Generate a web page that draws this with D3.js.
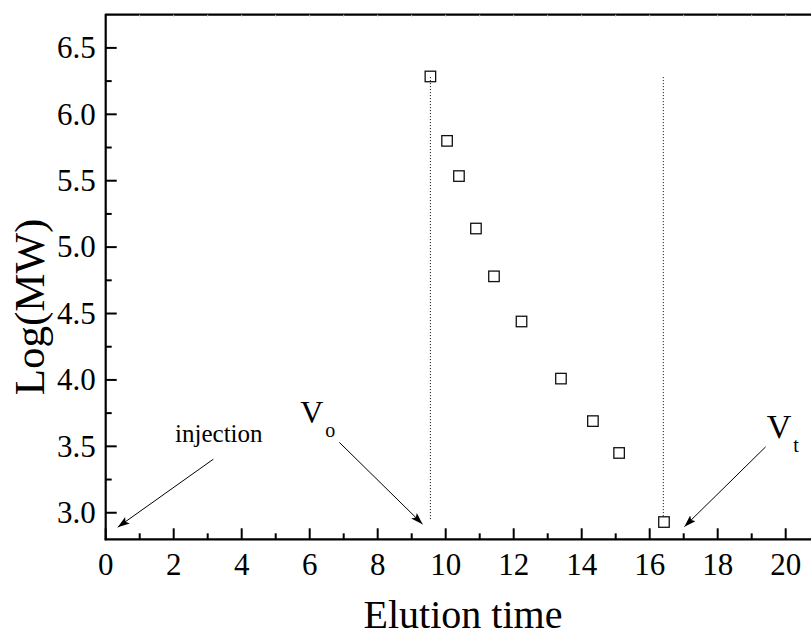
<!DOCTYPE html>
<html>
<head>
<meta charset="utf-8">
<script src="https://cdn.jsdelivr.net/npm/d3@7"></script>
<style>
  html, body { margin: 0; padding: 0; background: #fff; }
  svg { display: block; }
</style>
</head>
<body>
<svg id="chart" width="811" height="637"></svg>
<script>
// ---- data ----
const elutionTime = [9.55, 10.04, 10.39, 10.89, 11.42, 12.23, 13.39, 14.33, 15.10, 16.42];
const logMW       = [6.285, 5.80, 5.535, 5.14, 4.78, 4.44, 4.01, 3.69, 3.45, 2.93];
const xTicks = [0, 2, 4, 6, 8, 10, 12, 14, 16, 18, 20];
const yTicks = [3.0, 3.5, 4.0, 4.5, 5.0, 5.5, 6.0, 6.5];
const xLabel = "Elution time";
const yLabel = "Log(MW)";
// markers: V0 / Vt dotted lines [x, yTop, yBottom]
const markerLines = [[9.55, 6.28, 2.945], [16.40, 6.28, 2.97]];
// annotations: label, label pos, arrow start, arrow tip
const annotations = [
  { text: "injection", sub: "", lx: 2.04, ly: 3.535, x1: 3.165, y1: 3.403, x2: 0.353, y2: 2.891 },
  { text: "V", sub: "o", lx: 5.72, ly: 3.674, x1: 6.871, y1: 3.530, x2: 9.32, y2: 2.914 },
  { text: "V", sub: "t", lx: 19.44, ly: 3.563, x1: 19.41, y1: 3.496, x2: 17.02, y2: 2.895 }
];

(function () {
const FONT = "Liberation Serif";
const svg = d3.select("#chart");
const mLeft = 105.7, mTop = 14.7, mBottom = 539.3;
const x = d3.scaleLinear().domain([0, 21]).range([mLeft, mLeft + 34 * 21]);
const y = d3.scaleLinear().domain([2.8, 6.75]).range([mBottom, mTop]);

svg.append("defs").append("marker")
  .attr("id", "arrow").attr("viewBox", "0 0 12 8")
  .attr("refX", 12).attr("refY", 4)
  .attr("markerWidth", 12).attr("markerHeight", 8)
  .attr("markerUnits", "userSpaceOnUse")
  .attr("orient", "auto")
  .append("path").attr("d", "M0,0 L12,4 L0,8 L2.5,4 Z").attr("fill", "#000");

// top frame line with faint ticks
svg.append("line").attr("x1", mLeft).attr("x2", 831).attr("y1", mTop).attr("y2", mTop)
  .attr("stroke", "#000").attr("stroke-width", 2.2);
svg.append("g").selectAll("line").data(d3.range(1, 21)).join("line")
  .attr("x1", d => x(d)).attr("x2", d => x(d)).attr("y1", mTop).attr("y2", mTop + 2)
  .attr("stroke", "#bbb").attr("stroke-width", 1);

// x axis
const gx = svg.append("g").attr("transform", `translate(0,${mBottom})`);
gx.append("line").attr("x1", mLeft - 1).attr("x2", 831).attr("stroke", "#000").attr("stroke-width", 2.2);
gx.selectAll(".maj").data(xTicks).join("line").attr("class", "maj")
  .attr("x1", d => x(d)).attr("x2", d => x(d)).attr("y1", 0).attr("y2", -11)
  .attr("stroke", "#000").attr("stroke-width", 2);
gx.selectAll(".min").data(d3.range(1, 21, 2)).join("line").attr("class", "min")
  .attr("x1", d => x(d)).attr("x2", d => x(d)).attr("y1", 0).attr("y2", -6)
  .attr("stroke", "#000").attr("stroke-width", 2);
gx.selectAll("text").data(xTicks).join("text")
  .attr("x", d => x(d)).attr("y", 36).attr("text-anchor", "middle")
  .attr("font-family", FONT).attr("font-size", 31).text(d => d);

// y axis
const gy = svg.append("g").attr("transform", `translate(${mLeft},0)`);
gy.append("line").attr("y1", mTop - 1).attr("y2", mBottom + 1).attr("stroke", "#000").attr("stroke-width", 2.2);
gy.selectAll(".maj").data(yTicks).join("line").attr("class", "maj")
  .attr("x1", 0).attr("x2", 11).attr("y1", d => y(d)).attr("y2", d => y(d))
  .attr("stroke", "#000").attr("stroke-width", 2);
gy.selectAll(".min").data(d3.range(3.25, 6.5, 0.5)).join("line").attr("class", "min")
  .attr("x1", 0).attr("x2", 6).attr("y1", d => y(d)).attr("y2", d => y(d))
  .attr("stroke", "#000").attr("stroke-width", 2);
gy.selectAll("text").data(yTicks).join("text")
  .attr("x", -10).attr("y", d => y(d)).attr("dy", "0.33em").attr("text-anchor", "end")
  .attr("font-family", FONT).attr("font-size", 31).text(d => d.toFixed(1));

// axis labels
svg.append("text").attr("x", 463).attr("y", 628).attr("text-anchor", "middle")
  .attr("font-family", FONT).attr("font-size", 40).text(xLabel);
svg.append("text").attr("transform", "translate(44,307) rotate(-90)").attr("text-anchor", "middle")
  .attr("font-family", FONT).attr("font-size", 43).text(yLabel);

// dotted marker lines
svg.append("g").selectAll("line").data(markerLines).join("line")
  .attr("x1", d => x(d[0])).attr("x2", d => x(d[0]))
  .attr("y1", d => y(d[1])).attr("y2", d => y(d[2]))
  .attr("stroke", "#000").attr("stroke-width", 1).attr("stroke-dasharray", "1,2");

// data points
const s = 10.5;
svg.append("g").selectAll("rect").data(elutionTime.map((t, i) => [t, logMW[i]])).join("rect")
  .attr("x", d => x(d[0]) - s / 2).attr("y", d => y(d[1]) - s / 2)
  .attr("width", s).attr("height", s)
  .attr("fill", "none").attr("stroke", "#111").attr("stroke-width", 1.3);

// annotations
const ga = svg.append("g");
ga.selectAll("line").data(annotations).join("line")
  .attr("x1", d => x(d.x1)).attr("y1", d => y(d.y1))
  .attr("x2", d => x(d.x2)).attr("y2", d => y(d.y2))
  .attr("stroke", "#000").attr("stroke-width", 1).attr("marker-end", "url(#arrow)");
annotations.forEach((d, i) => {
  const t = ga.append("text").attr("x", x(d.lx)).attr("y", y(d.ly)).attr("font-family", FONT);
  if (d.sub) {
    t.attr("font-size", i === 2 ? 34 : 32);
    t.append("tspan").text(d.text);
    t.append("tspan").attr("font-size", 20).attr("dx", 2).attr("dy", 14).text(d.sub);
  } else {
    t.attr("font-size", 25).text(d.text);
  }
});
})();
</script>
</body>
</html>
